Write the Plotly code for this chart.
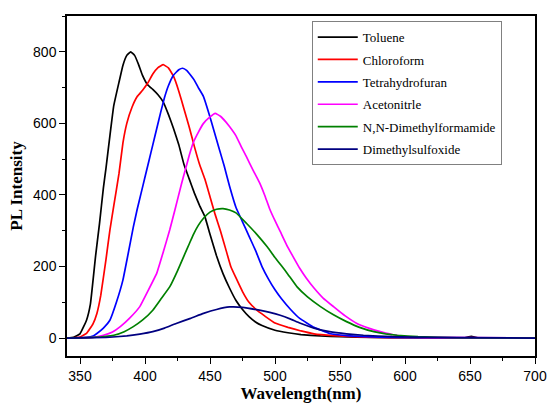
import plotly.graph_objects as go

names = ["Toluene", "Chloroform", "Tetrahydrofuran", "Acetonitrle",
         "N,N-Dimethylformamide", "Dimethylsulfoxide"]
colors = ["#000000", "#ff0000", "#0000ff", "#ff00ff", "#008000", "#000080"]

wl_tol = [340, 345, 350, 355, 358, 362, 365, 368, 370, 373, 376, 380, 383, 386, 389, 392, 395, 398, 402, 406,
          410, 414, 418, 422, 426, 430, 434, 438, 442, 446, 450, 455, 460, 465, 470, 475, 480, 485, 490, 500,
          510, 520, 535, 550, 575, 600, 640, 646, 651, 656, 700]
i_tol = [0, 2, 12, 50, 95, 230, 320, 420, 475, 565, 650, 715, 762, 790, 800, 790, 765, 735, 708, 695,
         680, 660, 625, 585, 540, 485, 445, 405, 370, 340, 290, 230, 180, 140, 105, 80, 60, 45, 35, 22,
         15, 10, 6, 4, 2, 1, 1, 1, 5, 1, 0]

wl_chl = [340, 350, 355, 360, 363, 366, 370, 373, 376, 380, 383, 386, 390, 394, 398, 402, 406, 410, 414, 418,
          422, 426, 430, 434, 438, 442, 446, 450, 454, 458, 462, 466, 470, 475, 480, 486, 492, 500, 510, 520,
          530, 545, 560, 580, 600, 700]
i_chl = [0, 3, 13, 40, 69, 120, 220, 302, 370, 460, 545, 600, 645, 675, 692, 712, 738, 756, 764, 755,
         731, 690, 640, 590, 535, 485, 445, 395, 345, 300, 250, 200, 168, 130, 100, 78, 62, 42, 30, 20,
         12, 7, 4, 2, 1, 0]

wl_thf = [340, 355, 360, 363, 368, 373, 378, 383, 387, 391, 394, 397, 400, 403, 406, 409, 412, 415, 418, 422,
          426, 429, 432, 435, 438, 441, 445, 449, 453, 457, 461, 465, 470, 475, 480, 485, 490, 495, 500, 505,
          512, 519, 530, 542, 555, 570, 590, 620, 700]
i_thf = [0, 2, 6, 13, 28, 50, 100, 162, 235, 310, 360, 405, 450, 495, 540, 585, 630, 672, 705, 735,
         750, 754, 748, 735, 720, 700, 675, 630, 580, 530, 480, 425, 365, 325, 285, 245, 200, 165, 135, 110,
         80, 55, 30, 13, 7, 4, 2, 1, 0]

wl_ace = [340, 360, 368, 375, 381, 388, 396, 402, 409, 414, 419, 423, 428, 431, 434, 437, 441, 445, 450, 454,
          458, 462, 465, 470, 474, 478, 483, 488, 492, 496, 500, 504, 509, 514, 519, 524, 530, 537, 545, 554,
          563, 572, 581, 590, 601, 620, 700]
i_ace = [0, 2, 8, 17, 32, 55, 88, 130, 181, 240, 302, 358, 430, 470, 510, 545, 575, 600, 618, 628,
         620, 605, 591, 565, 535, 507, 470, 435, 400, 360, 328, 298, 260, 227, 195, 168, 140, 112, 88, 62,
         41, 28, 18, 10, 4, 2, 0]

wl_dmf = [340, 360, 376, 384, 391, 398, 406, 412, 419, 425, 430, 434, 437, 441, 445, 450, 455, 460, 465, 470,
          478, 486, 494, 500, 505, 510, 517, 525, 535, 545, 555, 565, 576, 585, 594, 610, 640, 700]
i_dmf = [0, 2, 8, 18, 32, 50, 78, 108, 143, 188, 230, 263, 288, 315, 335, 352, 360, 362, 358, 350,
         321, 290, 255, 225, 202, 178, 143, 115, 88, 65, 46, 30, 18, 12, 8, 4, 1, 0]

wl_dmso = [340, 370, 386, 396, 406, 415, 424, 435, 445, 455, 465, 475, 488, 496, 504, 512, 519, 530, 542, 555,
           568, 590, 620, 700]
i_dmso = [0, 2, 6, 11, 18, 28, 41, 55, 69, 80, 87, 86, 78, 72, 64, 53, 42, 28, 18, 12,
          8, 4, 2, 0]

series_x = [wl_tol, wl_chl, wl_thf, wl_ace, wl_dmf, wl_dmso]
series_y = [i_tol, i_chl, i_thf, i_ace, i_dmf, i_dmso]

fig = go.Figure()
for k, (n, c, xs, ys) in enumerate(zip(names, colors, series_x, series_y)):
    fig.add_trace(go.Scatter(x=xs, y=ys, mode="lines", name=n,
                             line=dict(color=c, width=1.7, shape="spline", smoothing=0.3),
                             legendgroup=str(k)))

tickfont = dict(family="Liberation Sans, Arial", size=14, color="black")
titlefont = dict(family="Liberation Serif, Times New Roman", size=17, color="black", weight="bold")

fig.update_layout(
    width=549, height=403,
    margin=dict(l=67, r=14, t=16, b=47),
    paper_bgcolor="white", plot_bgcolor="white",
    showlegend=True,
    legend=dict(x=0.523, y=0.985, xanchor="left", yanchor="top",
                bordercolor="#808080", borderwidth=1, bgcolor="white",
                font=dict(family="Liberation Serif, Times New Roman", size=13, color="black"),
                tracegroupgap=2.5, itemwidth=40),
    xaxis=dict(range=[340, 700], dtick=50, tick0=350, showgrid=False, zeroline=False, automargin=False,
               showline=True, linecolor="black", linewidth=1.5, mirror=True,
               ticks="outside", ticklen=6, tickwidth=1.2, tickcolor="black",
               minor=dict(dtick=25, tick0=350, ticks="outside", ticklen=3, tickwidth=1, tickcolor="black"),
               tickfont=tickfont,
               title=dict(text="Wavelength(nm)", font=titlefont, standoff=6)),
    yaxis=dict(range=[-50, 900], dtick=200, tick0=0, showgrid=False, zeroline=False, automargin=False,
               showline=True, linecolor="black", linewidth=1.5, mirror=True,
               ticks="outside", ticklen=6, tickwidth=1.2, tickcolor="black",
               minor=dict(dtick=100, tick0=0, ticks="outside", ticklen=3, tickwidth=1, tickcolor="black"),
               tickfont=tickfont,
               title=dict(text="PL Intensity", font=titlefont, standoff=6)),
)

fig.write_html("out.html", config={"displayModeBar": False},
               post_script="document.body.style.margin='0';document.body.style.overflow='hidden';")
